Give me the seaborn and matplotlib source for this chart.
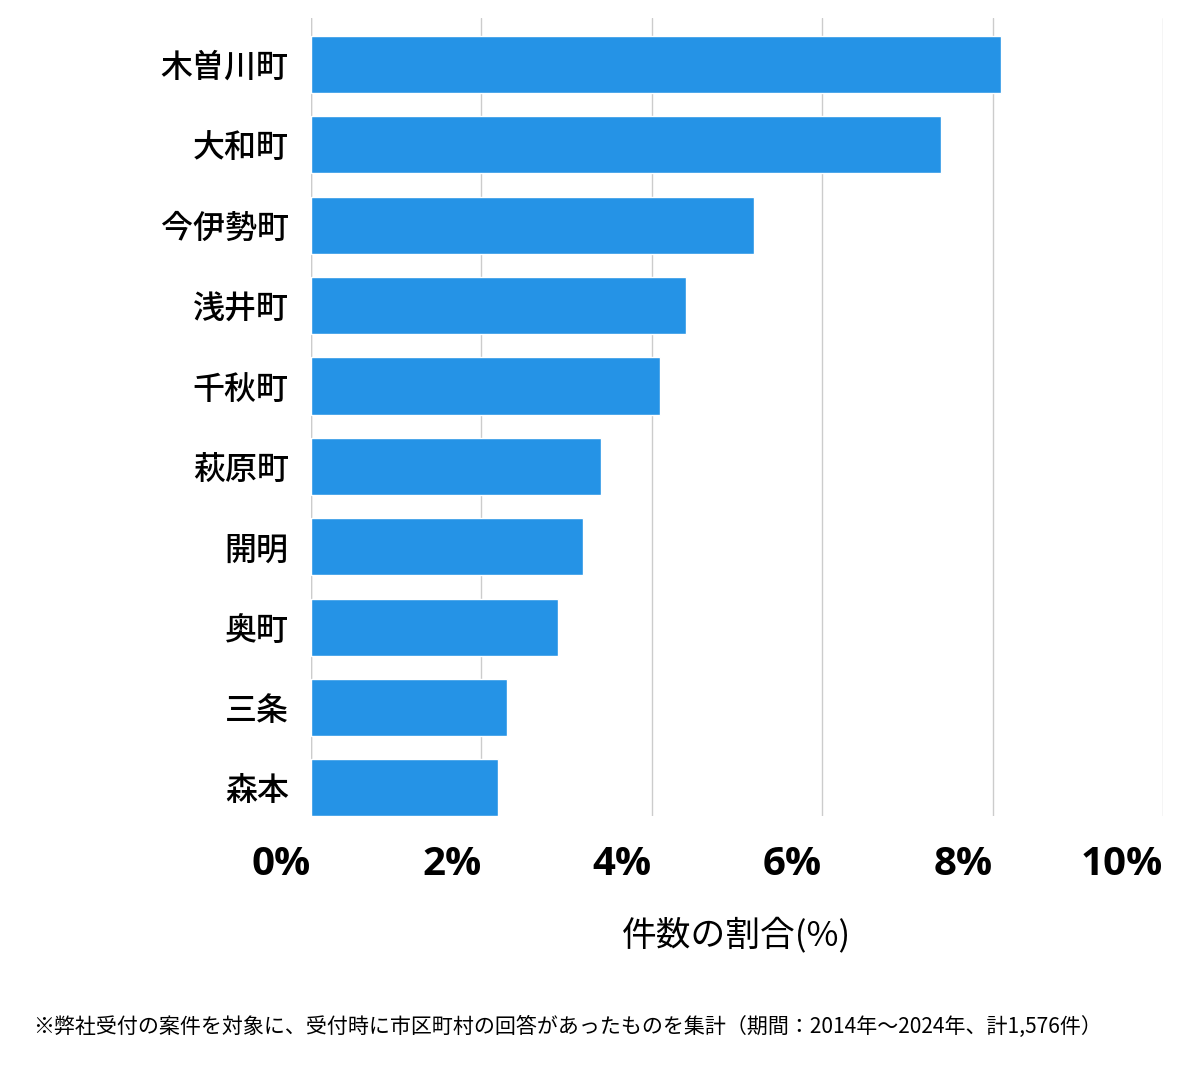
import matplotlib
matplotlib.use("Agg")
import matplotlib.pyplot as plt
import seaborn as sns
import pandas as pd

# 地区別の件数割合(%)
chiku = ["木曽川町", "大和町", "今伊勢町", "浅井町", "千秋町",
         "萩原町", "開明", "奥町", "三条", "森本"]
wariai = [8.10, 7.39, 5.20, 4.40, 4.10, 3.40, 3.19, 2.90, 2.30, 2.19]
x_ticks = [0, 2, 4, 6, 8, 10]
x_tick_labels = ["0%", "2%", "4%", "6%", "8%", "10%"]

df = pd.DataFrame({"chiku": chiku, "wariai": wariai})

sns.set_theme(style="white")
plt.rcParams["font.family"] = ["Noto Sans CJK JP", "DejaVu Sans"]
plt.rcParams["text.color"] = "black"
plt.rcParams["xtick.color"] = "black"
plt.rcParams["ytick.color"] = "black"
plt.rcParams["axes.labelcolor"] = "black"

fig = plt.figure(figsize=(12, 10.69), dpi=100)
ax = fig.add_axes([0.2592, 0.2367, 0.71, 0.7465])

sns.barplot(data=df, x="wariai", y="chiku", color="#2593e6",
            width=0.71, saturation=1, ax=ax)

ax.set_xlim(0, 10)
ax.set_ylim(9.35, -0.58)
ax.set_xticks(x_ticks)
ax.set_xticklabels(x_tick_labels, fontsize=29, fontweight="bold",
                   ha="right", family=["Open Sans", "DejaVu Sans"])
ax.tick_params(axis="x", length=0, pad=21)
ax.tick_params(axis="y", length=0, pad=16, labelsize=23)
for lab in ax.get_yticklabels():
    lab.set_fontweight("medium")

ax.set_axisbelow(True)
ax.grid(axis="x", color="#cccccc", linewidth=1)
ax.grid(axis="y", visible=False)
ax.axvline(0, color="#aaaaaa", linewidth=1.6, zorder=0.5)
for s in ax.spines.values():
    s.set_visible(False)

ax.set_ylabel("")
ax.set_xlabel("件数の割合(%)", fontsize=25, labelpad=24)

fig.text(0.0275, 0.039,
         "※弊社受付の案件を対象に、受付時に市区町村の回答があったものを集計（期間：2014年～2024年、計1,576件）",
         fontsize=15.1, ha="left", va="center")

fig.savefig("out.png", dpi=100)
